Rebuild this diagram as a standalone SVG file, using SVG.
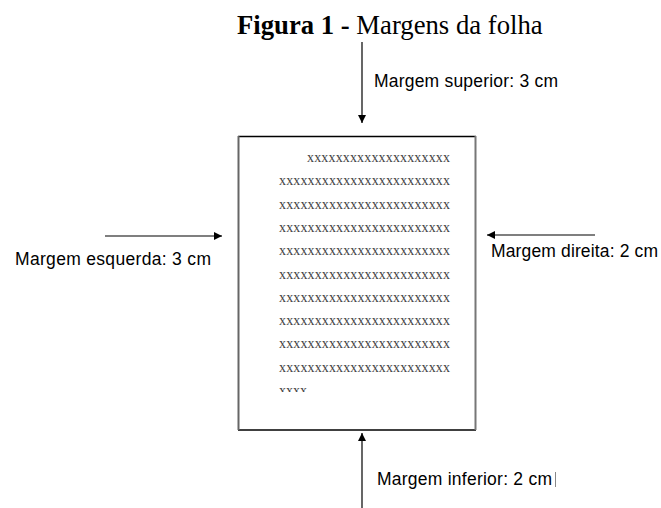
<svg xmlns="http://www.w3.org/2000/svg" width="661" height="508" viewBox="0 0 661 508">
<style>
.lbl{font-family:"Liberation Sans",Arial,sans-serif;font-size:17.5px;fill:#000}
.xs{font-family:"Liberation Serif","Times New Roman",serif;font-size:14px;fill:#444}
.ttl{font-family:"Liberation Serif","Times New Roman",serif;font-size:26.7px;fill:#000}
.ln{stroke:#000;stroke-width:1.2;fill:none}
</style>
<defs>
<marker id="ah" viewBox="0 0 10 10" refX="10" refY="5" markerWidth="9" markerHeight="8" markerUnits="userSpaceOnUse" orient="auto">
<path d="M0,0 L10,5 L0,10 Z" fill="#000"/>
</marker>
<clipPath id="cut"><rect x="270" y="385" width="50" height="7"/></clipPath>
</defs>
<g id="title">
<text class="ttl" x="237" y="34"><tspan font-weight="bold">Figura 1 - </tspan>Margens da folha</text>
</g>
<g id="page">
<line x1="238" y1="136.5" x2="476" y2="136.5" stroke="#000" stroke-width="1.3"/>
<line x1="238" y1="430" x2="476" y2="430" stroke="#000" stroke-width="1.5"/>
<line x1="238.5" y1="136" x2="238.5" y2="430" stroke="#666" stroke-width="2"/>
<line x1="475.5" y1="136" x2="475.5" y2="430" stroke="#777" stroke-width="2"/>
<g class="xs">
<text x="307" y="162" textLength="143" lengthAdjust="spacing">xxxxxxxxxxxxxxxxxxxx</text>
<text x="279" y="185.3" textLength="171" lengthAdjust="spacing">xxxxxxxxxxxxxxxxxxxxxxxx</text>
<text x="279" y="208.6" textLength="171" lengthAdjust="spacing">xxxxxxxxxxxxxxxxxxxxxxxx</text>
<text x="279" y="231.9" textLength="171" lengthAdjust="spacing">xxxxxxxxxxxxxxxxxxxxxxxx</text>
<text x="279" y="255.2" textLength="171" lengthAdjust="spacing">xxxxxxxxxxxxxxxxxxxxxxxx</text>
<text x="279" y="278.5" textLength="171" lengthAdjust="spacing">xxxxxxxxxxxxxxxxxxxxxxxx</text>
<text x="279" y="301.8" textLength="171" lengthAdjust="spacing">xxxxxxxxxxxxxxxxxxxxxxxx</text>
<text x="279" y="325.1" textLength="171" lengthAdjust="spacing">xxxxxxxxxxxxxxxxxxxxxxxx</text>
<text x="279" y="348.4" textLength="171" lengthAdjust="spacing">xxxxxxxxxxxxxxxxxxxxxxxx</text>
<text x="279" y="371.7" textLength="171" lengthAdjust="spacing">xxxxxxxxxxxxxxxxxxxxxxxx</text>
<text x="279" y="395" textLength="28" lengthAdjust="spacing" clip-path="url(#cut)">xxxx</text>
</g>
</g>
<g id="connectors">
<line class="ln" x1="362" y1="42" x2="362" y2="123" marker-end="url(#ah)"/>
<line class="ln" x1="362" y1="508" x2="362" y2="433" marker-end="url(#ah)"/>
<line class="ln" x1="105" y1="236" x2="222" y2="236" marker-end="url(#ah)"/>
<line class="ln" x1="595" y1="235" x2="487" y2="235" marker-end="url(#ah)"/>
</g>
<g id="label-superior"><text class="lbl" x="374" y="87" textLength="184" lengthAdjust="spacing">Margem superior: 3 cm</text></g>
<g id="label-esquerda"><text class="lbl" x="15" y="265" textLength="196" lengthAdjust="spacing">Margem esquerda: 3 cm</text></g>
<g id="label-direita"><text class="lbl" x="491" y="257" textLength="167" lengthAdjust="spacing">Margem direita: 2 cm</text></g>
<g id="label-inferior"><text class="lbl" x="377" y="485" textLength="175" lengthAdjust="spacing">Margem inferior: 2 cm</text><line x1="555.5" y1="472" x2="555.5" y2="487" stroke="#888" stroke-width="1"/></g>
</svg>
